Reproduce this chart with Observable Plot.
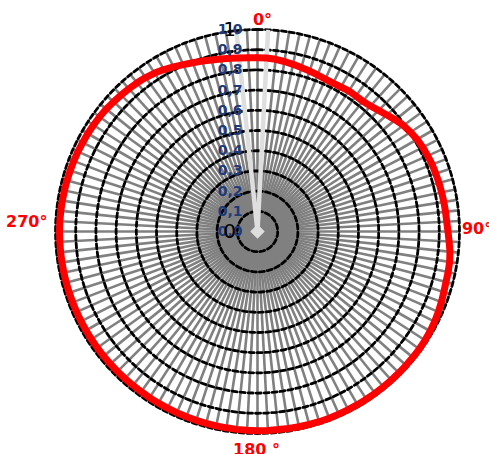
<!DOCTYPE html>
<html><head><meta charset="utf-8">
<script src="https://cdn.jsdelivr.net/npm/d3@7"></script>
<script src="https://cdn.jsdelivr.net/npm/@observablehq/plot@0.6"></script>
<style>html,body{margin:0;padding:0;background:#fff;overflow:hidden}</style>
</head><body><div id="chart"></div>
<script>
// categories: one spoke every 3 degrees
const angleStep = 3;
const categories = d3.range(0, 360, angleStep);

// red series (radius per category, 0..1), rows of 30 degrees
const redValues = [
  0.86,0.86,0.857,0.852,0.846,0.84,0.835,0.83,0.826,0.824,
  0.826,0.83,0.829,0.829,0.836,0.848,0.862,0.878,0.893,0.903,
  0.912,0.918,0.922,0.926,0.928,0.93,0.932,0.934,0.936,0.938,
  0.943,0.95,0.958,0.963,0.965,0.966,0.97,0.975,0.98,0.984,
  0.987,0.989,0.99,0.99,0.99,0.99,0.99,0.99,0.99,0.99,
  0.99,0.99,0.99,0.99,0.99,0.989,0.988,0.987,0.986,0.986,
  0.986,0.985,0.985,0.984,0.984,0.983,0.983,0.982,0.982,0.981,
  0.981,0.981,0.98,0.98,0.98,0.98,0.98,0.98,0.98,0.98,
  0.98,0.98,0.98,0.98,0.98,0.98,0.98,0.98,0.98,0.98,
  0.98,0.98,0.979,0.978,0.977,0.976,0.975,0.974,0.973,0.971,
  0.97,0.968,0.966,0.963,0.959,0.955,0.951,0.947,0.942,0.935,
  0.926,0.915,0.904,0.895,0.887,0.879,0.873,0.868,0.864,0.861
];

// light gray series: zero everywhere except two peaks
const grayPeakAngles = [3, 354];
const grayPeakValues = [1.0, 0.98];

const ringLevels = [0.1,0.2,0.3,0.4,0.5,0.6,0.7,0.8,0.9,1.0];
const tickValues = [0,0.1,0.2,0.3,0.4,0.5,0.6,0.7,0.8,0.9,1.0];
const tickLabels = ["0,0","0,1","0,2","0,3","0,4","0,5","0,6","0,7","0,8","0,9","1,0"];
const sideValues = [0, 1];
const sideLabels = ["0", "1"];
const angleLabelAngles = [0, 90, 180, 270];
const angleLabels = ["0°", "90°", "180 °", "270°"];

// layout
const W = 489, H = 454, CX = 257, CY = 231, R = 202;
const rad = a => a * Math.PI / 180;
const px = (a, r) => r * Math.sin(rad(a));
const py = (a, r) => r * Math.cos(rad(a));

const redData = categories.map((a, i) => ({a, r: redValues[i]}));
const grayData = categories.map(a => {
  const k = grayPeakAngles.indexOf(a);
  return {a, r: k >= 0 ? grayPeakValues[k] : 0};
});
const ringData = ringLevels.flatMap(l => categories.map(a => ({a, r: l, l})));
const angleLabelData = angleLabelAngles.map((a, i) => ({a, t: angleLabels[i]}));
const labelLayout = [
  {r: 1.05, dx: 5, dy: 0, anchor: "middle"},
  {r: 1.012, dx: 0, dy: -3, anchor: "start"},
  {r: 1.08, dx: -1, dy: 0, anchor: "middle"},
  {r: 1.04, dx: 0, dy: -9.5, anchor: "end"}
];
const font = "DejaVu Sans, sans-serif";

const chart = Plot.plot({
  width: W, height: H,
  marginTop: 0, marginRight: 0, marginBottom: 0, marginLeft: 0,
  x: {domain: [-CX / R, (W - CX) / R], axis: null},
  y: {domain: [-(H - CY) / R, CY / R], axis: null},
  style: {background: "white", fontFamily: font},
  marks: [
    Plot.link(categories, {
      x1: () => 0, y1: () => 0,
      x2: a => px(a, 1), y2: a => py(a, 1),
      stroke: "#808080", strokeWidth: 2.6
    }),
    Plot.line(ringData, {
      x: d => px(d.a, d.r), y: d => py(d.a, d.r), z: "l",
      curve: "linear-closed", stroke: "#000", strokeWidth: 2.8,
      strokeDasharray: "5,3"
    }),
    Plot.line(grayData, {
      x: d => px(d.a, d.r), y: d => py(d.a, d.r),
      curve: "linear-closed", stroke: "#dedede", strokeWidth: 4.5,
      strokeLinejoin: "miter"
    }),
    Plot.line(redData, {
      x: d => px(d.a, d.r), y: d => py(d.a, d.r),
      curve: "linear-closed", stroke: "#ff0000", strokeWidth: 7
    }),
    Plot.dot([0], {x: () => 0, y: () => 0, symbol: "diamond2", r: 6.5, fill: "#dedede", stroke: "none"}),
    Plot.text(tickValues, {
      x: () => 0, y: v => v, text: (v, i) => tickLabels[i],
      dx: -15, textAnchor: "end", fill: "#1f3a78",
      fontSize: 14, fontWeight: "bold"
    }),
    Plot.text(sideValues, {
      x: () => 0, y: v => v, text: (v, i) => sideLabels[i],
      dx: -28, dy: 0, textAnchor: "middle", fill: "#000", fontSize: 20
    }),
    ...angleLabelData.map((d, i) => Plot.text([d], {
      x: e => px(e.a, labelLayout[i].r), y: e => py(e.a, labelLayout[i].r),
      text: "t", dx: labelLayout[i].dx, dy: labelLayout[i].dy,
      textAnchor: labelLayout[i].anchor,
      fill: "#ff0000", fontSize: 16, fontWeight: "bold"
    }))
  ]
});
document.getElementById("chart").appendChild(chart);
</script>
</body></html>
